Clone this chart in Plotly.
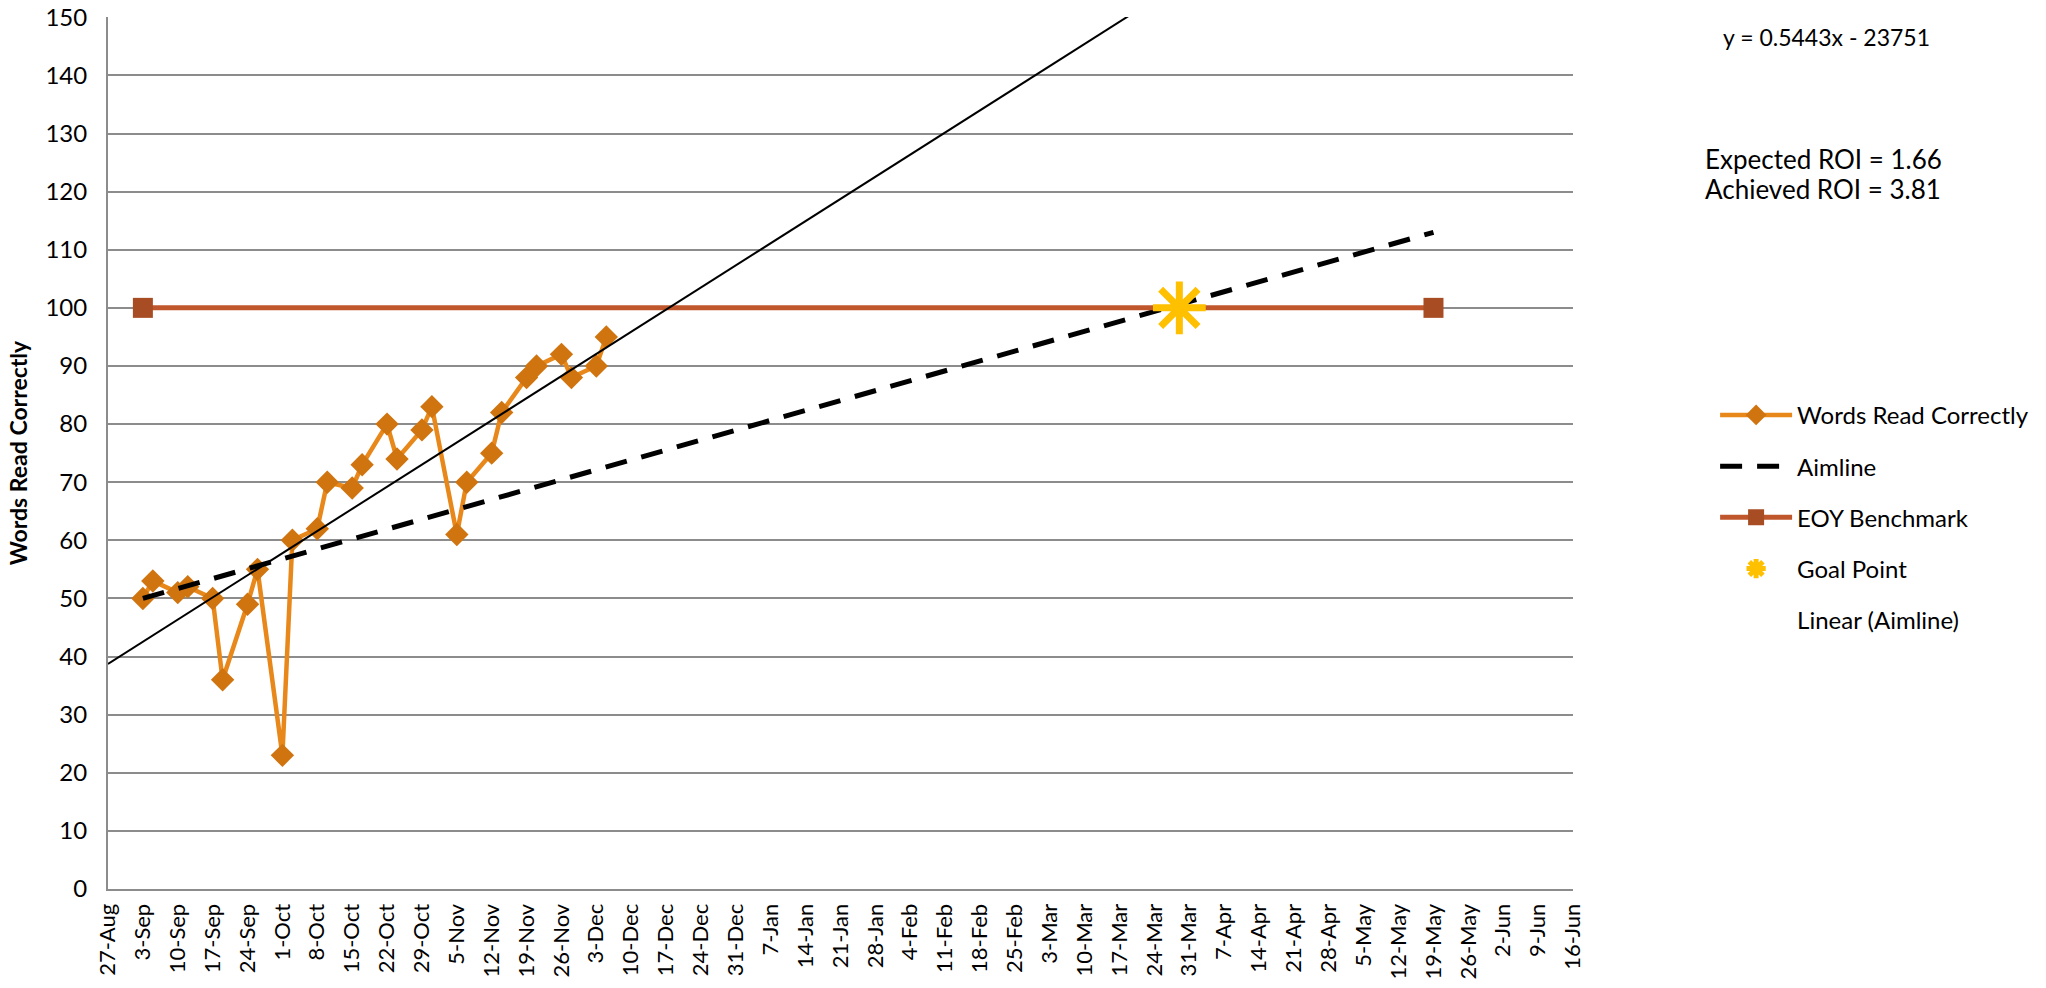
import numpy as np
import pandas as pd
import plotly.graph_objects as go

# ---- data ----
dates = ["2019-09-03", "2019-09-05", "2019-09-10", "2019-09-12", "2019-09-17", "2019-09-19",
         "2019-09-24", "2019-09-26", "2019-10-01", "2019-10-03", "2019-10-08", "2019-10-10",
         "2019-10-15", "2019-10-17", "2019-10-22", "2019-10-24", "2019-10-29", "2019-10-31",
         "2019-11-05", "2019-11-07", "2019-11-12", "2019-11-14", "2019-11-19", "2019-11-21",
         "2019-11-26", "2019-11-28", "2019-12-03", "2019-12-05"]
words = [50, 53, 51, 52, 50, 36, 49, 55, 23, 60, 62, 70, 69, 73, 80, 74, 79, 83,
         61, 70, 75, 82, 88, 90, 92, 88, 90, 95]

aim_dates = ["2019-09-03", "2020-05-19"]
aim_values = [50, 113]

eoy_dates = ["2019-09-03", "2020-05-19"]
eoy_values = [100, 100]

goal_dates = ["2020-03-29"]
goal_values = [100]

x_start, x_end = "2019-08-27", "2020-06-16"
y_min, y_max, y_step = 0, 150, 10

equation_text = "y = 0.5443x - 23751"
expected_text = "Expected ROI = 1.66"
achieved_text = "Achieved ROI = 3.81"

# ---- linear trendline (least squares fit of the words series) ----
t0 = pd.Timestamp(x_start)
t = np.array([(pd.Timestamp(d) - t0).days for d in dates], dtype=float)
slope, intercept = np.polyfit(t, np.array(words, dtype=float), 1)
t_end = (pd.Timestamp(x_end) - t0).days
trend_x = [x_start, x_end]
trend_y = [intercept, intercept + slope * t_end]

FONT = "Lato"
GRID = "#8c8c8c"

fig = go.Figure()

fig.add_trace(go.Scatter(
    x=dates, y=words, name="Words Read Correctly", mode="lines+markers",
    line=dict(color="#E8871A", width=4.5),
    marker=dict(symbol="diamond", size=18, color="#D0740F"),
    legendgroup="a",
))
fig.add_trace(go.Scatter(
    x=aim_dates, y=aim_values, name="Aimline", mode="lines",
    line=dict(color="black", width=5, dash="22px,15px"),
    legendgroup="b",
))
fig.add_trace(go.Scatter(
    x=eoy_dates, y=eoy_values, name="EOY Benchmark", mode="lines+markers",
    line=dict(color="#C0572C", width=5),
    marker=dict(symbol="square", size=20, color="#A84C23"),
    legendgroup="c",
))
fig.add_trace(go.Scatter(
    x=goal_dates, y=goal_values, name="Goal Point", mode="markers",
    marker=dict(symbol="asterisk-open", size=44, color="#FFC000",
                line=dict(color="#FFC000", width=7)),
    legendgroup="d",
))
fig.add_trace(go.Scatter(
    x=trend_x, y=trend_y, name="Linear (Aimline)", mode="lines",
    line=dict(color="black", width=2), showlegend=False,
))
# legend entry for the trendline (Excel shows no visible symbol)
fig.add_trace(go.Scatter(
    x=[None], y=[None], name="Linear (Aimline)", mode="lines",
    line=dict(color="rgba(0,0,0,0)", width=2),
    legendgroup="e",
))

fig.update_layout(
    width=2046, height=988,
    margin=dict(l=108, r=473, t=17, b=99, autoexpand=False),
    paper_bgcolor="white", plot_bgcolor="white",
    font=dict(family=FONT, size=24, color="black"),
    legend=dict(
        x=1.097, y=0.569, xanchor="left", yanchor="top",
        font=dict(family=FONT, size=24, color="black"),
        itemwidth=72, tracegroupgap=17, traceorder="grouped",
        bgcolor="rgba(0,0,0,0)",
    ),
    showlegend=True,
)

fig.update_xaxes(
    type="date", range=[x_start, x_end], automargin=False,
    tick0=x_start, dtick=7 * 86400000, tickformat="%-d-%b",
    tickangle=-90, tickfont=dict(family=FONT, size=22, color="black"),
    showgrid=False, showline=True, linecolor=GRID, linewidth=2,
    ticks="", zeroline=False, ticklabelstandoff=4, ticklabeloverflow="allow",
)
fig.update_yaxes(
    range=[y_min, y_max + 0.05], tickvals=list(range(y_min, y_max + 1, y_step)),
    automargin=False,
    tickfont=dict(family=FONT, size=24, color="black"),
    showgrid=True, gridcolor=GRID, gridwidth=2,
    showline=True, linecolor=GRID, linewidth=2, zeroline=False,
    ticks="", ticklabelstandoff=14, ticklabeloverflow="allow",
    title=dict(text="<b>Words Read Correctly</b>", font=dict(family=FONT, size=23, color="black"),
               standoff=11),
)

fig.add_annotation(text=equation_text, xref="paper", yref="paper", x=1.101, y=0.977,
                   xanchor="left", yanchor="middle", showarrow=False,
                   font=dict(family=FONT, size=23, color="black"))
fig.add_annotation(text=expected_text, xref="paper", yref="paper", x=1.0887, y=0.837,
                   xanchor="left", yanchor="middle", showarrow=False,
                   font=dict(family=FONT, size=26, color="black"))
fig.add_annotation(text=achieved_text, xref="paper", yref="paper", x=1.0887, y=0.803,
                   xanchor="left", yanchor="middle", showarrow=False,
                   font=dict(family=FONT, size=26, color="black"))

# remove the default 8px page margin so the 2046x988 figure fills the window exactly
fig.write_html("out.html", config={"displayModeBar": False},
               post_script="document.body.style.margin='0px';")
